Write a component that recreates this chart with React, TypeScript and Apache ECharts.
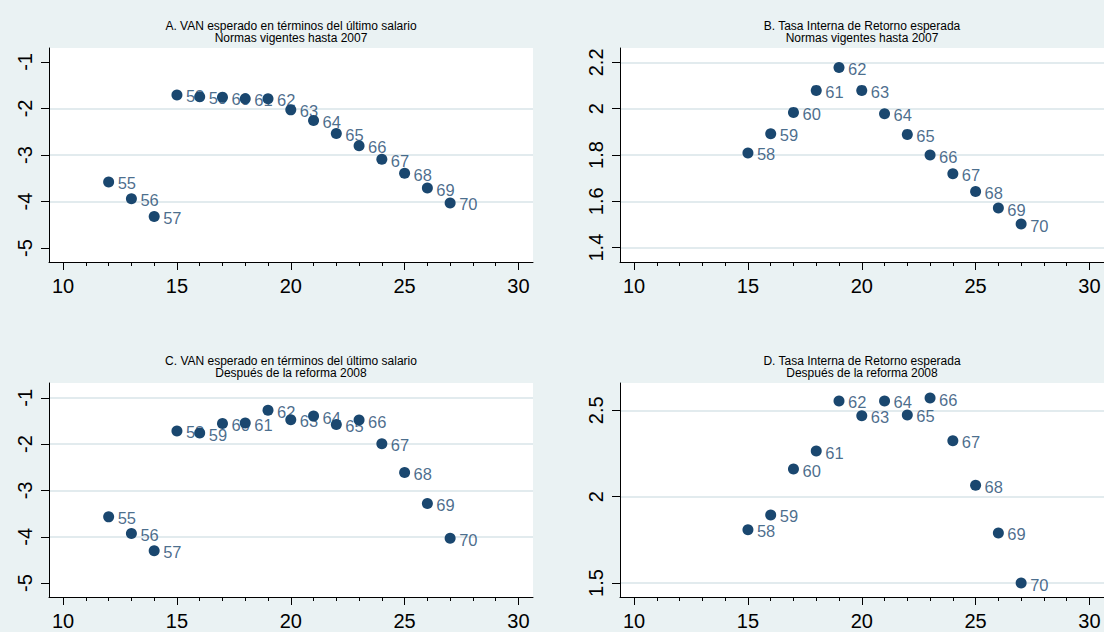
import React, { useEffect, useRef } from "react";
import * as echarts from "echarts";

// ---------- data ----------
const agesVan = [55, 56, 57, 58, 59, 60, 61, 62, 63, 64, 65, 66, 67, 68, 69, 70];
const xVan = [12, 13, 14, 15, 16, 17, 18, 19, 20, 21, 22, 23, 24, 25, 26, 27];
const vanA = [-3.58, -3.94, -4.32, -1.71, -1.75, -1.76, -1.79, -1.79, -2.03, -2.26, -2.54, -2.8, -3.09, -3.39, -3.71, -4.03];
const vanC = [-3.57, -3.93, -4.3, -1.715, -1.76, -1.555, -1.545, -1.27, -1.475, -1.395, -1.575, -1.48, -1.99, -2.61, -3.28, -4.03];

const agesTir = [58, 59, 60, 61, 62, 63, 64, 65, 66, 67, 68, 69, 70];
const xTir = [15, 16, 17, 18, 19, 20, 21, 22, 23, 24, 25, 26, 27];
const tirB = [1.809, 1.892, 1.984, 2.079, 2.178, 2.079, 1.978, 1.889, 1.8, 1.719, 1.642, 1.571, 1.502];
const tirD = [1.809, 1.894, 2.16, 2.264, 2.554, 2.469, 2.554, 2.473, 2.571, 2.324, 2.066, 1.79, 1.5];

const xTickLabels = [10, 15, 20, 25, 30];
const xMinorTicks = [10, 11, 12, 13, 14, 15, 16, 17, 18, 19, 20, 21, 22, 23, 24, 25, 26, 27, 28, 29, 30];
const yTicksVan = [-5, -4, -3, -2, -1];
const yTicksTirB = [1.4, 1.6, 1.8, 2, 2.2];
const yTicksTirD = [1.5, 2, 2.5];
// gridlines drawn in each panel (the reference omits some at the edges)
const yGridA = [-4, -3, -2];
const yGridB = [1.4, 1.6, 1.8, 2, 2.2];
const yGridC = [-4, -3, -2, -1];
const yGridD = [1.5, 2, 2.5];

const titleA = "A. VAN esperado en términos del último salario\nNormas vigentes hasta 2007";
const titleB = "B. Tasa Interna de Retorno esperada\nNormas vigentes hasta 2007";
const titleC = "C. VAN esperado en términos del último salario\nDespués de la reforma 2008";
const titleD = "D. Tasa Interna de Retorno esperada\nDespués de la reforma 2008";

// ---------- style ----------
const NAVY = "#1a476f";
const BG = "#eaf2f3";
const GRIDLINE = "#e2ebee";
const FONT = '"Liberation Sans", Arial, Helvetica, sans-serif';

const panels = [
  { left: 49, top: 48, width: 484, height: 214, yMin: -5.3, yMax: -0.7, yTicks: yTicksVan, yGrid: yGridA, title: titleA, xs: xVan, ys: vanA, ages: agesVan },
  { left: 620, top: 48, width: 484, height: 214, yMin: 1.338, yMax: 2.262, yTicks: yTicksTirB, yGrid: yGridB, title: titleB, xs: xTir, ys: tirB, ages: agesTir },
  { left: 49, top: 383, width: 484, height: 214, yMin: -5.3, yMax: -0.68, yTicks: yTicksVan, yGrid: yGridC, title: titleC, xs: xVan, ys: vanC, ages: agesVan },
  { left: 620, top: 383, width: 484, height: 214, yMin: 1.419, yMax: 2.658, yTicks: yTicksTirD, yGrid: yGridD, title: titleD, xs: xTir, ys: tirD, ages: agesTir },
];

const X_MIN = 9.38;
const X_MAX = 30.64;

function buildOption() {
  const grid: any[] = [];
  const xAxis: any[] = [];
  const yAxis: any[] = [];
  const series: any[] = [];
  const graphic: any[] = [];

  panels.forEach((p, i) => {
    grid.push({
      left: p.left,
      top: p.top,
      width: p.width,
      height: p.height,
      show: true,
      backgroundColor: "#ffffff",
      borderWidth: 0,
      containLabel: false,
    });
    xAxis.push({
      type: "value",
      gridIndex: i,
      min: X_MIN,
      max: X_MAX,
      position: "bottom",
      axisLine: { show: true, onZero: false, lineStyle: { color: "#000", width: 1 } },
      axisTick: { show: true, length: 8, customValues: xTickLabels, lineStyle: { color: "#000", width: 1 } },
      axisLabel: { show: true, customValues: xTickLabels, fontSize: 20, color: "#000", margin: 14, fontFamily: FONT },
      splitLine: { show: false },
    });
    xAxis.push({
      type: "value",
      gridIndex: i,
      min: X_MIN,
      max: X_MAX,
      position: "bottom",
      axisLine: { show: false, onZero: false },
      axisTick: { show: true, length: 4, customValues: xMinorTicks, lineStyle: { color: "#000", width: 1 } },
      axisLabel: { show: false },
      splitLine: { show: false },
    });
    yAxis.push({
      type: "value",
      gridIndex: i,
      min: p.yMin,
      max: p.yMax,
      position: "left",
      z: 3,
      axisLine: { show: true, onZero: false, lineStyle: { color: "#000", width: 1 } },
      axisTick: { show: true, length: 8, customValues: p.yTicks, lineStyle: { color: "#000", width: 1 } },
      axisLabel: { show: true, customValues: p.yTicks, rotate: 90, fontSize: 20, color: "#000", margin: 14, fontFamily: FONT },
      splitLine: { show: false },
    });
    // gridline-only axis
    yAxis.push({
      type: "value",
      gridIndex: i,
      min: p.yMin,
      max: p.yMax,
      position: "left",
      z: 0,
      axisLine: { show: false, onZero: false },
      axisTick: { show: false, customValues: p.yGrid },
      axisLabel: { show: false },
      splitLine: { show: true, lineStyle: { color: GRIDLINE, width: 2 } },
    });
    const data = p.xs.map((x, k) => [x, p.ys[k], p.ages[k]]);
    // labels (below markers)
    series.push({
      type: "scatter",
      xAxisIndex: 2 * i,
      yAxisIndex: 2 * i,
      data,
      symbol: "circle",
      symbolSize: 11,
      z: 2,
      silent: true,
      itemStyle: { color: "rgba(0,0,0,0)" },
      label: {
        show: true,
        position: "right",
        distance: 3.5,
        offset: [0, 1.5],
        color: NAVY,
        fontSize: 16.5,
        fontFamily: FONT,
        formatter: (q: any) => String(q.value[2]),
      },
    });
    // markers
    series.push({
      type: "scatter",
      xAxisIndex: 2 * i,
      yAxisIndex: 2 * i,
      data,
      symbol: "circle",
      symbolSize: 11,
      z: 3,
      silent: true,
      itemStyle: { color: NAVY, opacity: 1 },
      label: { show: false },
    });
    graphic.push({
      type: "text",
      x: p.left + p.width / 2,
      y: p.top - 28,
      silent: true,
      style: {
        text: p.title,
        fill: "#000",
        fontSize: 12,
        fontFamily: FONT,
        lineHeight: 12,
        align: "center",
        verticalAlign: "top",
      },
    });
  });

  return {
    animation: false,
    backgroundColor: BG,
    grid,
    xAxis,
    yAxis,
    series,
    graphic,
  };
}

export default function App() {
  const ref = useRef<HTMLDivElement>(null);
  useEffect(() => {
    if (!ref.current) return;
    const chart = echarts.init(ref.current, null, { renderer: "svg" });
    chart.setOption(buildOption());
    return () => chart.dispose();
  }, []);
  return (
    <div
      ref={ref}
      style={{ position: "absolute", left: 0, top: 0, width: 1104, height: 632 }}
    />
  );
}
